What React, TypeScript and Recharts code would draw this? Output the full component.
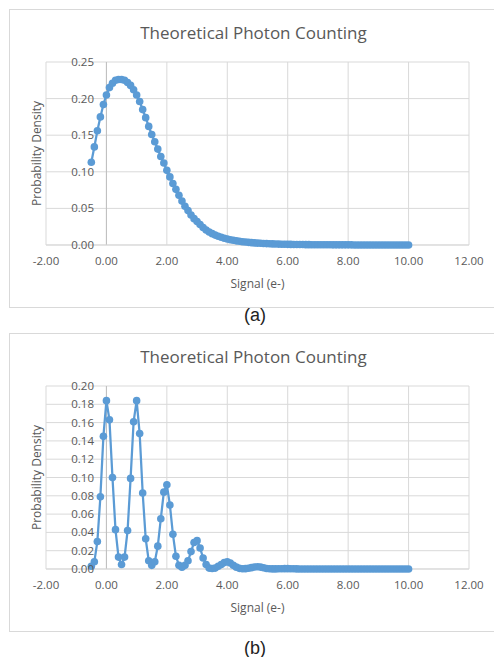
import React from "react";
import { CartesianGrid, Line, LineChart, ReferenceLine, XAxis, YAxis } from "recharts";

// signal (e-) sample points
const signal = [
  -0.5, -0.4, -0.3, -0.2, -0.1,
  0, 0.1, 0.2, 0.3, 0.4, 0.5, 0.6, 0.7, 0.8, 0.9,
  1, 1.1, 1.2, 1.3, 1.4, 1.5, 1.6, 1.7, 1.8, 1.9,
  2, 2.1, 2.2, 2.3, 2.4, 2.5, 2.6, 2.7, 2.8, 2.9,
  3, 3.1, 3.2, 3.3, 3.4, 3.5, 3.6, 3.7, 3.8, 3.9,
  4, 4.1, 4.2, 4.3, 4.4, 4.5, 4.6, 4.7, 4.8, 4.9,
  5, 5.1, 5.2, 5.3, 5.4, 5.5, 5.6, 5.7, 5.8, 5.9,
  6, 6.1, 6.2, 6.3, 6.4, 6.5, 6.6, 6.7, 6.8, 6.9,
  7, 7.1, 7.2, 7.3, 7.4, 7.5, 7.6, 7.7, 7.8, 7.9,
  8, 8.1, 8.2, 8.3, 8.4, 8.5, 8.6, 8.7, 8.8, 8.9,
  9, 9.1, 9.2, 9.3, 9.4, 9.5, 9.6, 9.7, 9.8, 9.9,
  10,
];

// (a) broad read noise
const densityA = [
  0.113, 0.134, 0.156, 0.175, 0.192,
  0.205, 0.215, 0.221, 0.225, 0.226, 0.226, 0.225, 0.222, 0.218, 0.212,
  0.205, 0.196, 0.185, 0.174, 0.162, 0.151, 0.141, 0.131, 0.121, 0.112,
  0.102, 0.093, 0.084, 0.076, 0.068, 0.06, 0.053, 0.047, 0.041, 0.036,
  0.032, 0.028, 0.024, 0.0205, 0.0178, 0.0155, 0.0135, 0.012, 0.0105, 0.0093,
  0.0082, 0.0072, 0.0064, 0.0057, 0.0051, 0.0045, 0.004, 0.0036, 0.0032, 0.0029,
  0.0026, 0.0023, 0.0021, 0.0019, 0.0017, 0.0015, 0.0014, 0.0012, 0.0011, 0.001,
  0.0009, 0.0008, 0.0007, 0.0007, 0.0006, 0.0006, 0.0005, 0.0005, 0.0004, 0.0004,
  0.0004, 0.0003, 0.0003, 0.0003, 0.0003, 0.0002, 0.0002, 0.0002, 0.0002, 0.0002,
  0.0002, 0.0002, 0.0001, 0.0001, 0.0001, 0.0001, 0.0001, 0.0001, 0.0001, 0.0001,
  0.0001, 0.0001, 0.0001, 0.0001, 0.0001, 0.0001, 0.0001, 0.0001, 0.0001, 0.0001,
  0.0001,
];

// (b) low read noise, resolved photon peaks
const densityB = [
  0.003, 0.008, 0.03, 0.079, 0.145,
  0.184, 0.163, 0.1, 0.043, 0.013, 0.005, 0.013, 0.042, 0.099, 0.161,
  0.184, 0.148, 0.083, 0.033, 0.009, 0.004, 0.008, 0.025, 0.055, 0.084,
  0.092, 0.07, 0.038, 0.014, 0.004, 0.002, 0.004, 0.009, 0.019, 0.029,
  0.031, 0.023, 0.012, 0.005, 0.001, 0.0005, 0.001, 0.003, 0.005, 0.007,
  0.008, 0.0065, 0.004, 0.002, 0.0007, 0.0003, 0.0004, 0.0008, 0.0015, 0.0022,
  0.0025, 0.0021, 0.0013, 0.0006, 0.0002, 0.0001, 0.0001, 0.0002, 0.0003, 0.0004,
  0.0004, 0.0003, 0.0002, 0.0001, 0, 0, 0, 0, 0, 0,
  0, 0, 0, 0, 0, 0, 0, 0, 0, 0,
  0, 0, 0, 0, 0, 0, 0, 0, 0, 0,
  0, 0, 0, 0, 0, 0, 0, 0, 0, 0,
  0,
];

const xTicks = [-2, 0, 2, 4, 6, 8, 10, 12];
const yTicksA = [0, 0.05, 0.1, 0.15, 0.2, 0.25];
const yTicksB = [0, 0.02, 0.04, 0.06, 0.08, 0.1, 0.12, 0.14, 0.16, 0.18, 0.2];

const blue = "#5B9BD5";
const grey = "#595959";

function YTick(p: any) {
  // labels sit beside the x = 0 axis, like Excel
  return (
    <text x={p.x + 48} y={p.y} dy="0.35em" textAnchor="end" fontSize={11.5} fill={grey}>
      {Number(p.payload.value).toFixed(2)}
    </text>
  );
}

function PhotonChart({ ys, yTicks, top }: { ys: number[]; yTicks: number[]; top: number }) {
  const rows = signal.map((x, i) => ({ x, y: ys[i] }));
  return (
    <>
      <div
        style={{
          position: "absolute", left: 9, top: top + 9, width: 495, height: 299,
          border: "1px solid #D9D9D9", boxSizing: "border-box", background: "#fff",
        }}
      />
      <div
        style={{
          position: "absolute", left: 0, top: top + 21, width: 507, textAlign: "center",
          fontSize: 17, lineHeight: "24px", color: grey,
        }}
      >
        Theoretical Photon Counting
      </div>
      <div style={{ position: "absolute", left: 0, top }}>
        <LineChart width={494} height={310} data={rows} margin={{ top: 62, right: 25, bottom: 25, left: 16 }}>
          <CartesianGrid stroke="#D9D9D9" />
          <XAxis
            type="number"
            dataKey="x"
            domain={[-2, 12]}
            ticks={xTicks}
            interval={0}
            tickFormatter={(v: number) => v.toFixed(2)}
            tick={{ fontSize: 11.5, fill: grey }}
            tickLine={false}
            tickSize={0}
            tickMargin={12}
            axisLine={{ stroke: "#D9D9D9" }}
            height={40}
            label={({ viewBox }: any) => (
              <text
                x={viewBox.x + viewBox.width / 2}
                y={viewBox.y + 38}
                textAnchor="middle"
                dominantBaseline="central"
                fontSize={12}
                fill={grey}
              >
                Signal (e-)
              </text>
            )}
          />
          <YAxis
            type="number"
            domain={[yTicks[0], yTicks[yTicks.length - 1]]}
            ticks={yTicks}
            interval={0}
            width={30}
            tickLine={false}
            tickSize={0}
            tickMargin={0}
            axisLine={false}
            tick={YTick}
            label={({ viewBox }: any) => {
              const cx = viewBox.x + 20;
              const cy = viewBox.y + viewBox.height / 2;
              return (
                <text
                  x={cx}
                  y={cy}
                  transform={`rotate(-90 ${cx} ${cy})`}
                  textAnchor="middle"
                  dominantBaseline="central"
                  fontSize={12}
                  fill={grey}
                >
                  Probability Density
                </text>
              );
            }}
          />
          <ReferenceLine x={0} stroke="#BFBFBF" />
          <Line
            type="linear"
            dataKey="y"
            stroke={blue}
            strokeWidth={2.25}
            dot={{ r: 3.8, fill: blue, stroke: blue, strokeWidth: 0 }}
            activeDot={false}
            isAnimationActive={false}
          />
        </LineChart>
      </div>
    </>
  );
}

export default function App() {
  return (
    <div
      style={{
        position: "absolute", left: 0, top: 0, width: 494, height: 657, overflow: "hidden",
        background: "#fff", fontFamily: "'Open Sans', 'Noto Sans', sans-serif",
      }}
    >
      <PhotonChart ys={densityA} yTicks={yTicksA} top={0} />
      <div
        style={{
          position: "absolute", left: 0, top: 305, width: 510, textAlign: "center",
          fontFamily: "'Liberation Sans', Arial, sans-serif", fontSize: 18, lineHeight: "20px", color: "#222",
        }}
      >
        (a)
      </div>
      <PhotonChart ys={densityB} yTicks={yTicksB} top={324} />
      <div
        style={{
          position: "absolute", left: 0, top: 638, width: 510, textAlign: "center",
          fontFamily: "'Liberation Sans', Arial, sans-serif", fontSize: 18, lineHeight: "20px", color: "#222",
        }}
      >
        (b)
      </div>
    </div>
  );
}
